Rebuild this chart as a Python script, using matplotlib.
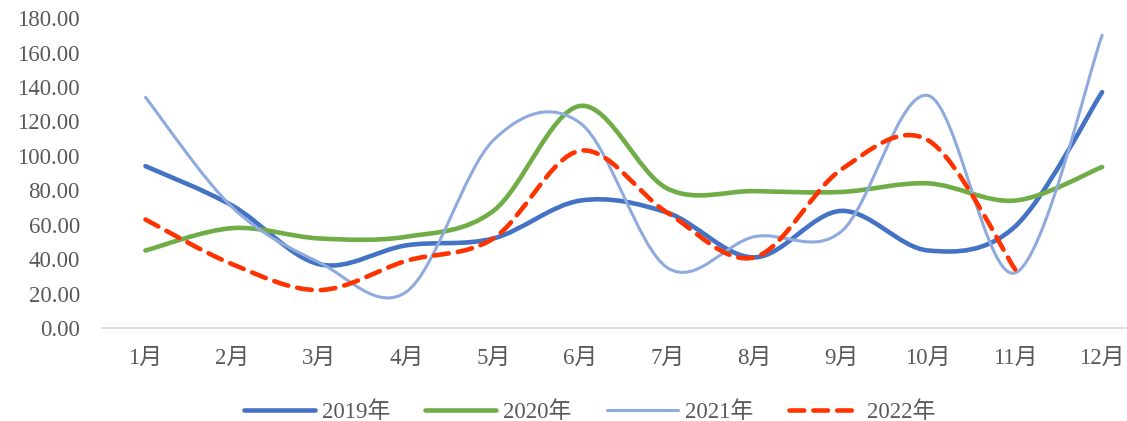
import numpy as np
import matplotlib
matplotlib.use('Agg')
import matplotlib.pyplot as plt
from matplotlib.path import Path
from matplotlib.patches import PathPatch
from matplotlib.lines import Line2D

plt.rcParams['font.family'] = ['Liberation Serif', 'Noto Sans CJK SC']

# データ
months = ['1月', '2月', '3月', '4月', '5月', '6月', '7月', '8月', '9月', '10月', '11月', '12月']
v2019 = [94, 71, 37, 48, 52, 74, 67, 41, 68, 45, 59, 137]
v2020 = [45, 58, 52, 53, 68, 129, 81, 79.5, 79, 84, 74, 93.5]
v2021 = [134, 70, 38, 21, 109, 119, 35, 53, 56, 135, 32, 170]
v2022 = [63, 37, 22, 39, 52, 103, 67, 41, 92, 109, 34, None]

series = [
    ('2019年', v2019, '#4472C4', 3.3, '-'),
    ('2020年', v2020, '#70AD47', 3.3, '-'),
    ('2021年', v2021, '#8FAADC', 2.2, '-'),
    ('2022年', v2022, '#FF3300', 3.3, (0, (3.2, 2.0))),
]


def smooth_path(xs, ys):
    # Excel風の平滑線 (Catmull-Rom -> ベジェ)
    pts = np.column_stack([xs, ys]).astype(float)
    n = len(pts)
    verts = [pts[0]]
    codes = [Path.MOVETO]
    for i in range(n - 1):
        p0 = pts[i - 1] if i > 0 else pts[i]
        p1 = pts[i]
        p2 = pts[i + 1]
        p3 = pts[i + 2] if i + 2 < n else pts[i + 1]
        c1 = p1 + (p2 - p0) / 6.0
        c2 = p2 - (p3 - p1) / 6.0
        verts += [c1, c2, p2]
        codes += [Path.CURVE4] * 3
    return Path(verts, codes)


fig = plt.figure(figsize=(11.27, 4.21), dpi=100)
ax = fig.add_axes([0.0905, 0.221, 0.926, 0.736])

handles = []
for label, vals, color, lw, ls in series:
    xs = [i for i, v in enumerate(vals) if v is not None]
    ys = [v for v in vals if v is not None]
    patch = PathPatch(smooth_path(xs, ys), facecolor='none', edgecolor=color,
                      lw=lw, linestyle=ls, capstyle='round', joinstyle='round')
    ax.add_patch(patch)
    handles.append(Line2D([], [], color=color, lw=lw, linestyle=ls,
                          dash_capstyle='round', solid_capstyle='round', label=label))

ax.set_xlim(-0.5, len(months) - 0.5)
ax.set_ylim(0, 180)
ax.set_yticks(np.arange(0, 181, 20))
ax.set_yticklabels([f'{t:.2f}' for t in np.arange(0, 181, 20)])
ax.set_xticks(range(len(months)))
ax.set_xticklabels(months)
ax.tick_params(axis='both', length=0, labelsize=16.5, labelcolor='#595959')
ax.tick_params(axis='x', pad=14)
ax.tick_params(axis='y', pad=16)

for s in ['top', 'right', 'left']:
    ax.spines[s].set_visible(False)
ax.spines['bottom'].set_color('#D9D9D9')
ax.spines['bottom'].set_linewidth(1.2)

fig.legend(handles=handles, loc='center', bbox_to_anchor=(0.523, 0.022), ncol=4,
           frameon=False, fontsize=16.5, labelcolor='#595959',
           handlelength=3.1, handletextpad=0.3, columnspacing=1.55)

plt.savefig('out.png', dpi=100)
plt.close()
